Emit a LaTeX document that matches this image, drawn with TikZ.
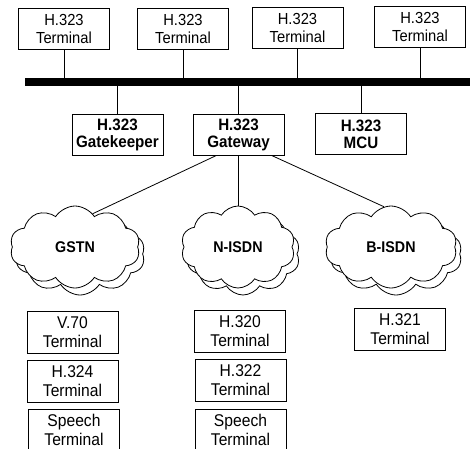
\documentclass[tikz,border=0pt]{standalone}
\usepackage{fontspec}
\setmainfont{Liberation Sans}[FakeStretch=0.92]
\usetikzlibrary{shapes.symbols,calc}
\tikzset{
  box/.style={draw, line width=0.8pt, align=center, inner sep=0pt,
    minimum width=91pt, minimum height=41pt},
  toprow/.style={box, font=\fontsize{16}{18}\selectfont},
  midrow/.style={box, font=\fontsize{16.5}{17}\selectfont\bfseries},
  lowrow/.style={box, minimum height=42pt, font=\fontsize{17}{19}\selectfont},
  net/.style={cloud, cloud puffs=10, cloud puff arc=115, cloud ignores aspect,
    minimum width=130pt, minimum height=82pt, draw, line width=0.8pt,
    fill=white, inner sep=0pt, font=\fontsize{15.5}{17}\selectfont\bfseries},
  link/.style={line width=0.8pt},
  bus/.style={line width=8pt},
}
\begin{document}
\begin{tikzpicture}[x=1pt,y=-1pt]
  \useasboundingbox (0,0) rectangle (470,448);

  % H.323 terminals on the LAN
  \node[toprow] (t1) at (64,29)      {H.323\\Terminal};
  \node[toprow] (t2) at (183,28.5)   {H.323\\Terminal};
  \node[toprow] (t3) at (297.5,27.5) {H.323\\Terminal};
  \node[toprow] (t4) at (420,27)     {H.323\\Terminal};

  % LAN bus
  \coordinate (busL) at (25,82);
  \coordinate (busR) at (472,82);
  \draw[bus] (busL) -- (busR);

  \foreach \t in {t1,t2,t3,t4}
    \draw[link] (\t.south) -- (\t.south |- busL);

  % gatekeeper, gateway, MCU
  \node[midrow] (gk)  at (117.5,134.5) {H.323\\Gatekeeper};
  \node[midrow] (gw)  at (238.5,134.5) {H.323\\Gateway};
  \node[midrow] (mcu) at (361,134)     {H.323\\MCU};

  \foreach \m in {gk,gw,mcu}
    \draw[link] (\m.north) -- (\m.north |- busL);

  % networks behind the gateway, each with a shadow outline
  \node[net, minimum width=130pt] (gstnb)  at (80,254)  {};
  \node[net, minimum width=130pt] (gstn)   at (75,247)  {GSTN};
  \node[net, minimum width=114pt] (nisdnb) at (243,254) {};
  \node[net, minimum width=114pt] (nisdn)  at (238,247) {N-ISDN};
  \node[net, minimum width=132pt] (bisdnb) at (396,254) {};
  \node[net, minimum width=132pt] (bisdn)  at (391,247) {B-ISDN};

  \draw[link] ($(gw.south)+(-22,0)$) -- (gstn.62);
  \draw[link] (gw.south) -- (gw.south |- nisdn.north);
  \draw[link] ($(gw.south)+(33,0)$) -- (bisdn.100);

  % terminals reached through each network
  \node[lowrow] (v70)  at (72.5,332)   {V.70\\Terminal};
  \node[lowrow] (h324) at (72.5,381.5) {H.324\\Terminal};
  \node[lowrow] (sp1)  at (74,430)     {Speech\\Terminal};
  \node[lowrow] (h320) at (240,331)    {H.320\\Terminal};
  \node[lowrow] (h322) at (240.5,380)  {H.322\\Terminal};
  \node[lowrow] (sp2)  at (240.5,430)  {Speech\\Terminal};
  \node[lowrow] (h321) at (400,329.5)  {H.321\\Terminal};
\end{tikzpicture}
\end{document}
